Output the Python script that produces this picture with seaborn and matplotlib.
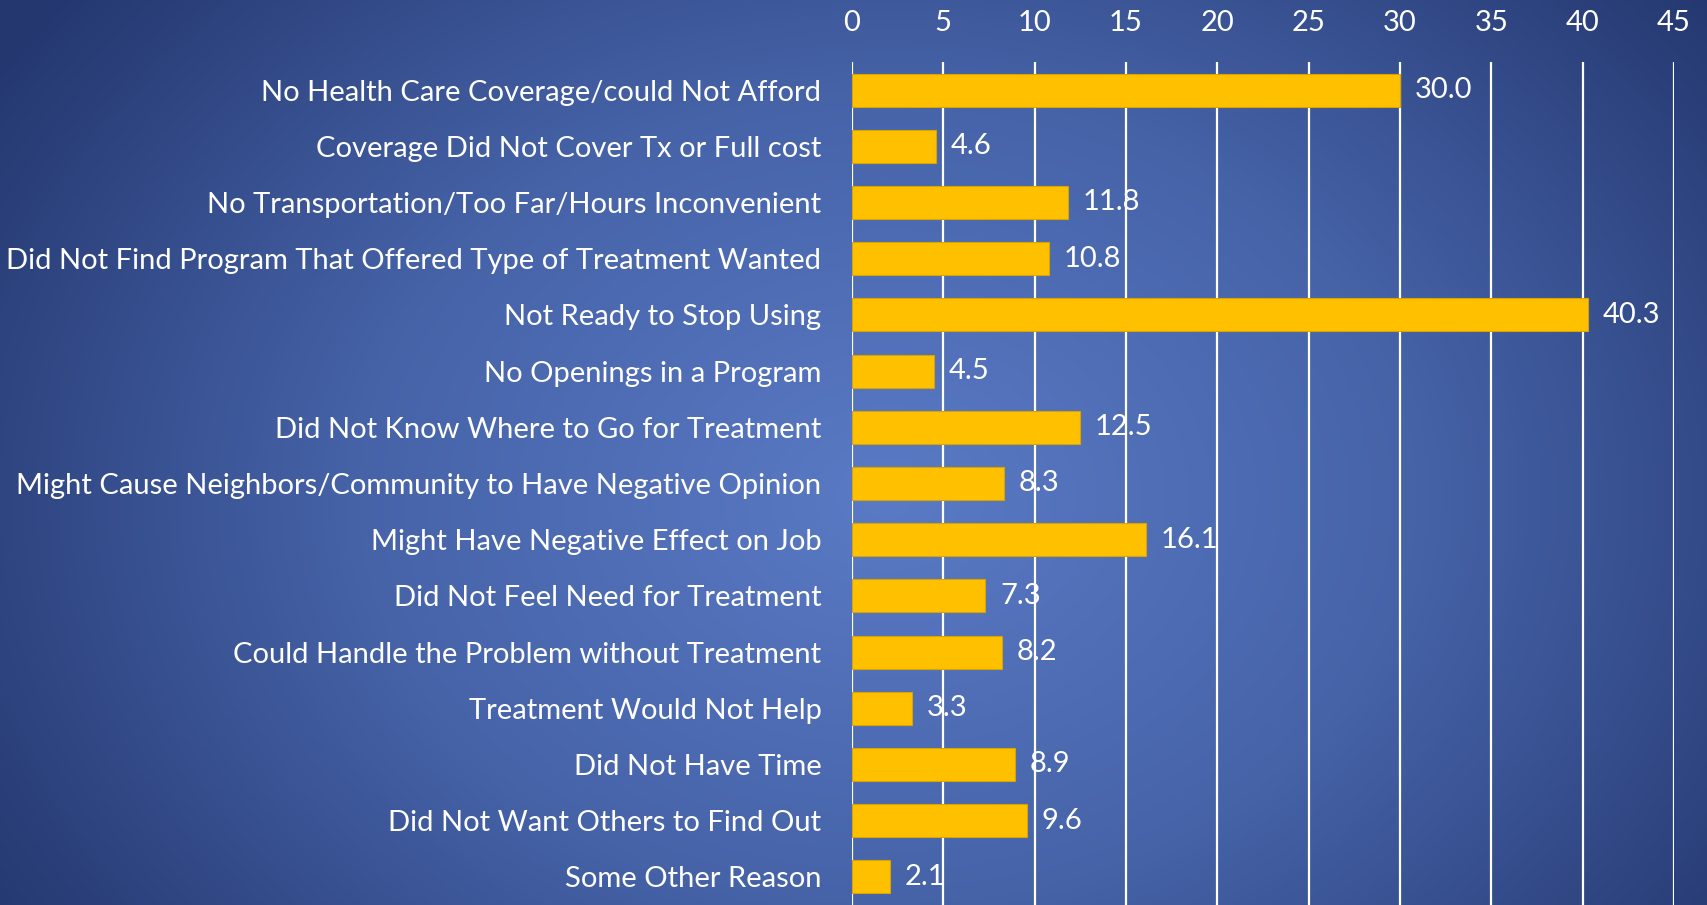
import numpy as np
import pandas as pd
import seaborn as sns
import matplotlib
import matplotlib.pyplot as plt
from matplotlib.colors import LinearSegmentedColormap

matplotlib.use('Agg')

# Данные
reasons = [
    "No Health Care Coverage/could Not Afford",
    "Coverage Did Not Cover Tx or Full cost",
    "No Transportation/Too Far/Hours Inconvenient",
    "Did Not Find Program That Offered Type of Treatment Wanted",
    "Not Ready to Stop Using",
    "No Openings in a Program",
    "Did Not Know Where to Go for Treatment",
    "Might Cause Neighbors/Community to Have Negative Opinion",
    "Might Have Negative Effect on Job",
    "Did Not Feel Need for Treatment",
    "Could Handle the Problem without Treatment",
    "Treatment Would Not Help",
    "Did Not Have Time",
    "Did Not Want Others to Find Out",
    "Some Other Reason",
]
percent = [30.0, 4.6, 11.8, 10.8, 40.3, 4.5, 12.5, 8.3, 16.1, 7.3, 8.2, 3.3, 8.9, 9.6, 2.1]
x_ticks = [0, 5, 10, 15, 20, 25, 30, 35, 40, 45]

df = pd.DataFrame({'reason': reasons, 'percent': percent})

sns.set_theme(style='white')
plt.rcParams['font.family'] = ['Lato', 'DejaVu Sans']

fig = plt.figure(figsize=(17.07, 9.05), dpi=100)

# Фон: радиальный градиент
bg = fig.add_axes([0, 0, 1, 1])
yy, xx = np.mgrid[0:1:300j, 0:1:600j]
r = np.sqrt(((xx - 0.52) / 0.62) ** 2 + ((yy - 0.45) / 0.9) ** 2)
cmap = LinearSegmentedColormap.from_list('bg', ['#5A7AC5', '#4663A8', '#24376F'])
bg.imshow(np.clip(r, 0, 1), cmap=cmap, aspect='auto', extent=[0, 1, 0, 1], origin='lower')
bg.axis('off')

ax = fig.add_axes([0.4991, 0.0, 0.4816, 0.9315])
ax.set_facecolor('none')
sns.barplot(data=df, x='percent', y='reason', orient='h', color='#FFC000',
            width=0.59, edgecolor='#D9A400', linewidth=0.8, saturation=1, ax=ax, zorder=3)

ax.set_xlim(0, 45)
ax.set_xticks(x_ticks)
ax.xaxis.tick_top()
ax.grid(axis='x', color='white', linewidth=1.6, zorder=0)
ax.set_axisbelow(True)
ax.tick_params(axis='x', length=0, pad=19, labelsize=21, labelcolor='white')
ax.tick_params(axis='y', length=0, pad=22, labelsize=21, labelcolor='white')
ax.set_xlabel('')
ax.set_ylabel('')
for s in ax.spines.values():
    s.set_visible(False)

for i, v in enumerate(percent):
    ax.text(v + 0.8, i, f'{v:.1f}', va='center', ha='left', color='white', fontsize=21, zorder=4)

plt.savefig('out.png', dpi=100)
